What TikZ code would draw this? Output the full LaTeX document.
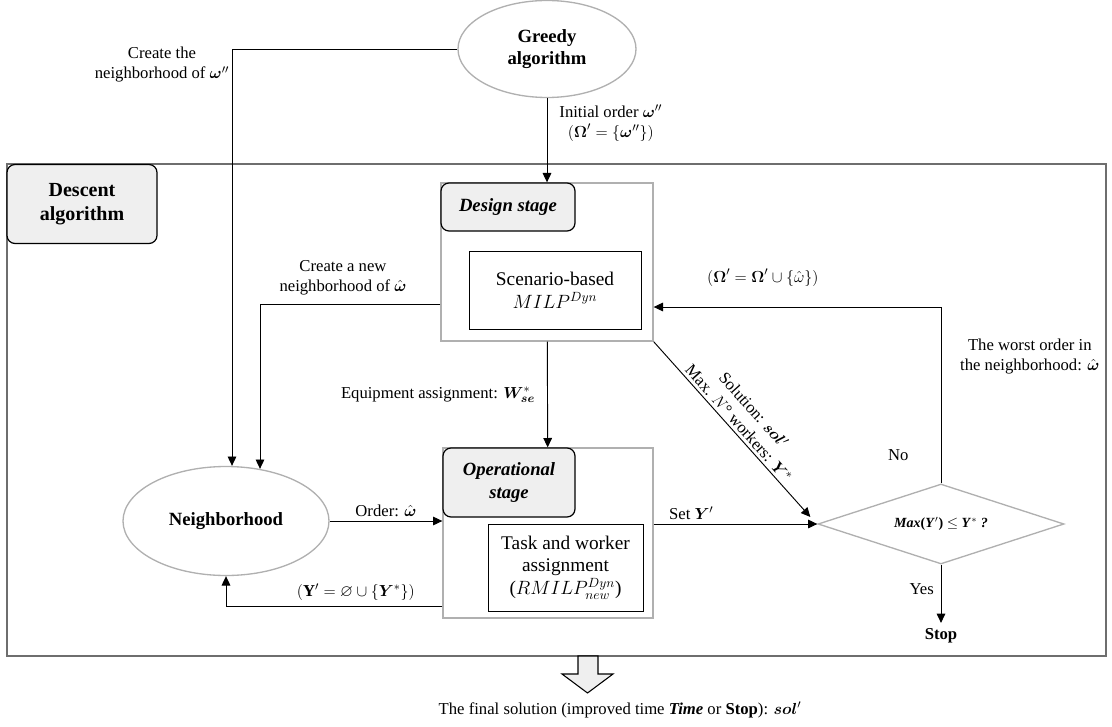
\documentclass[tikz,border=0pt]{standalone}
\usepackage{fontspec}
\setmainfont{Liberation Serif}
\usepackage{amsmath,amssymb,bm}
\usetikzlibrary{arrows.meta,shapes.geometric}

\definecolor{framegray}{HTML}{6E6E6E}
\definecolor{boxgray}{HTML}{B0B0B0}
\definecolor{headfill}{HTML}{EFEFEF}

\tikzset{
  lbl/.style={font=\fontsize{12.5}{15}\selectfont, align=center, inner sep=1pt},
  frame/.style={draw=framegray, line width=0.9pt, inner sep=0pt},
  stagebox/.style={draw=boxgray, line width=1pt, inner sep=0pt},
  headbox/.style={draw, fill=headfill, rounded corners=6pt, line width=0.9pt, align=center,
    inner sep=0pt, font=\fontsize{14}{17}\selectfont\bfseries\itshape},
  taskbox/.style={draw, line width=0.7pt, align=center, inner sep=0pt,
    font=\fontsize{14.5}{17}\selectfont},
  oval/.style={ellipse, draw=boxgray, line width=1pt, align=center, inner sep=0pt,
    font=\fontsize{14}{17}\selectfont\bfseries},
  decision/.style={diamond, draw=boxgray, line width=1pt, aspect=3, inner sep=0pt,
    minimum width=184.5pt, minimum height=60pt, font=\fontsize{10.5}{12}\selectfont}
}

\begin{document}
\begin{tikzpicture}[x=0.75pt, y=-0.75pt, line width=0.7pt, >={Triangle[length=7pt,width=6.5pt]}]
\useasboundingbox (0,0) rectangle (1112,727);

\node[frame, minimum width=824.25pt, minimum height=369pt] (descentbox) at (556.5,410) {};
\node[headbox, minimum width=112.5pt, minimum height=59.25pt,
  font=\fontsize{15}{18}\selectfont\bfseries] (descent) at (82,204) {Descent\\algorithm};

\node[oval, minimum width=133.5pt, minimum height=72.75pt] (greedy) at (547,49) {Greedy\\algorithm};
\node[oval, minimum width=154.5pt, minimum height=81.75pt] (nbhd) at (226,521) {Neighborhood};

\node[stagebox, minimum width=159pt, minimum height=118.5pt] (design) at (547,262) {};
\node[headbox, minimum width=100.5pt, minimum height=36pt] (designhead) at (508,207) {Design stage};
\node[taskbox, minimum width=129pt, minimum height=58.5pt] (milp) at (555,290) {Scenario-based\\$MILP^{Dyn}$};

\node[stagebox, minimum width=157.5pt, minimum height=127.5pt] (oper) at (548,533) {};
\node[headbox, minimum width=99pt, minimum height=51.75pt] (operhead) at (509,482.5) {Operational\\stage};
\node[taskbox, minimum width=116.25pt, minimum height=65.25pt] (rmilp) at (565.5,567.5)
  {Task and worker\\assignment\\($RMILP^{Dyn}_{new}$)};

\node[decision] (check) at (941,524) {\textbf{\textit{Max}(\textit{Y}$'$) $\leq$ \textit{Y}$^{*}$ \textit{?}}};
\node[lbl, font=\fontsize{12.5}{15}\selectfont\bfseries, inner sep=4pt] (stop) at (941,636) {Stop};

\node[lbl] (createlbl) at (162,65) {Create the\\neighborhood of $\boldsymbol{\omega}''$};
\node[lbl] (finallbl) at (620,710) {The final solution (improved time \textbf{\textit{Time}} or \textbf{Stop}): $\boldsymbol{sol}'$};

\draw[->] (greedy.west) -| ([xshift=4.5pt]nbhd.north);
\draw[->] (greedy) -- node[lbl, right=8pt, pos=0.3] {Initial order $\boldsymbol{\omega}''$\\$(\boldsymbol{\Omega}' = \{\boldsymbol{\omega}''\})$} (design);
\draw[->] ([yshift=-31.5pt]design.west) -| node[lbl, above=5pt, pos=0.27] {Create a new\\neighborhood of $\hat{\boldsymbol{\omega}}$} ([xshift=25.5pt,yshift=-2.25pt]nbhd.north);
\draw[->] (design) -- node[lbl, left=8pt] {Equipment assignment: $\boldsymbol{W}^{*}_{\boldsymbol{se}}$} (oper);
\draw[->] (nbhd.east) -- node[lbl, above=2pt] {Order: $\hat{\boldsymbol{\omega}}$} (nbhd.east -| oper.west);
\draw[->] ([yshift=-54.75pt]oper.west) -| node[lbl, above=3pt, pos=0.2] {$(\mathbf{Y}' = \varnothing \cup \{\boldsymbol{Y}^{*}\})$} (nbhd.south);
\draw[->] (check.west -| oper.east) -- node[lbl, above=2pt, pos=0.23] {Set $\boldsymbol{Y}'$} (check.west);
\draw[->] (design.south east) -- node[lbl, above=1pt, sloped] {Solution: $\boldsymbol{sol}'$\\Max. $N$° workers: $\boldsymbol{Y}^{*}$} ([xshift=-5.25pt,yshift=5.25pt]check.west);
\draw[->] (check.north) |- node[lbl, left=23pt, pos=0.08] {No}
  node[lbl, right=13pt, pos=0.36] {The worst order in\\the neighborhood: $\hat{\boldsymbol{\omega}}$}
  node[lbl, above=14pt, pos=0.81] {$(\boldsymbol{\Omega}' = \boldsymbol{\Omega}' \cup \{\hat{\omega}\})$}
  ([yshift=-33.75pt]design.east);
\draw[->] (check.south) -- node[lbl, left=4pt, pos=0.42] {Yes} (stop.north);

\draw[fill=headfill, line width=0.8pt] (578,656) -- (578,674) -- (562,674) -- (587.5,693) -- (613,674) -- (598,674) -- (598,656) -- cycle;

\end{tikzpicture}
\end{document}
